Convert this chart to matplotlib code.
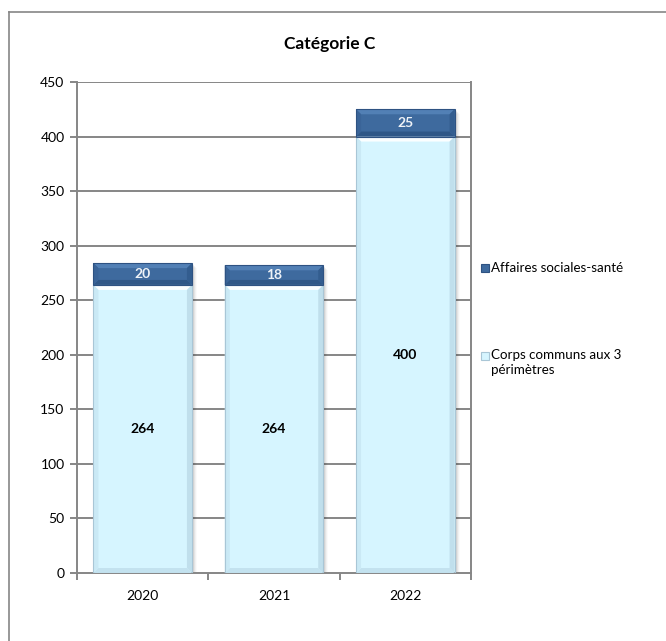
import matplotlib
matplotlib.use("Agg")
import matplotlib.pyplot as plt
from matplotlib.patches import Polygon, Rectangle
from matplotlib.lines import Line2D
import numpy as np

plt.rcParams['font.family'] = ['Lato', 'DejaVu Sans']

years = ["2020", "2021", "2022"]
corps_communs = [264, 264, 400]
affaires_sociales = [20, 18, 25]
series_names = ["Affaires sociales-santé", "Corps communs aux 3\npérimètres"]
title = "Catégorie C"
yticks = list(range(0, 451, 50))

W, H, DPI = 666, 641, 100
fig = plt.figure(figsize=(W / DPI, H / DPI), dpi=DPI)
ax_l, ax_r, ax_b, ax_t = 77 / W, 471 / W, (H - 573) / H, (H - 82) / H
ax = fig.add_axes([ax_l, ax_b, ax_r - ax_l, ax_t - ax_b])

grey = "#868686"
x = np.arange(len(years))
bw = 0.75
ax.set_xlim(-0.5, len(years) - 0.5)
ax.set_ylim(0, 450)

# pixel sizes in data units
px_x = (len(years)) / (W * (ax_r - ax_l))
px_y = 450 / (H * (ax_t - ax_b))

for v in yticks[1:]:
    ax.axhline(v, color=grey, lw=1.4, zorder=0)


def bevel_bar(xc, y0, y1, face, top_c, bot_c, side_l, side_r, edge):
    x0, x1 = xc - bw / 2, xc + bw / 2
    bx, by = 5 * px_x, 5 * px_y
    # soft shadow
    for k, a in zip(range(1, 6), [0.09, 0.07, 0.05, 0.035, 0.02]):
        ax.add_patch(Rectangle((x0 + k * px_x, y0 - k * px_y), x1 - x0, y1 - y0,
                               fc="#000000", alpha=a, lw=0, zorder=1))
    ax.add_patch(Rectangle((x0, y0), x1 - x0, y1 - y0, fc=face, lw=0, zorder=2))
    ax.add_patch(Polygon([(x0, y1), (x1, y1), (x1 - bx, y1 - by), (x0 + bx, y1 - by)],
                         fc=top_c, lw=0, zorder=3))
    ax.add_patch(Polygon([(x0, y0), (x1, y0), (x1 - bx, y0 + by), (x0 + bx, y0 + by)],
                         fc=bot_c, lw=0, zorder=3))
    ax.add_patch(Polygon([(x0, y0), (x0, y1), (x0 + bx, y1 - by), (x0 + bx, y0 + by)],
                         fc=side_l, lw=0, zorder=3))
    ax.add_patch(Polygon([(x1, y0), (x1, y1), (x1 - bx, y1 - by), (x1 - bx, y0 + by)],
                         fc=side_r, lw=0, zorder=3))
    ax.add_patch(Rectangle((x0, y0), x1 - x0, y1 - y0, fc="none", ec=edge, lw=0.8, zorder=4))


for i in range(len(years)):
    c = corps_communs[i]
    a = affaires_sociales[i]
    bevel_bar(x[i], 0, c, "#D6F5FF", "#FBFEFF", "#C3E2EF", "#CAE9F5", "#C0DFEC", "#A9C6D6")
    bevel_bar(x[i], c, c + a, "#3E6A9E", "#5280B5", "#2F5787", "#3A6498", "#335D8F", "#2E5282")
    ax.text(x[i], c / 2, str(c), ha="center", va="center", fontsize=10,
            fontweight="bold", color="black", zorder=5)
    ax.text(x[i], c + a / 2, str(a), ha="center", va="center", fontsize=10,
            fontweight="bold", color="#EEF2F7", zorder=5)

ax.spines["top"].set_visible(False)
for s in ["left", "bottom", "right"]:
    ax.spines[s].set_color(grey)
    ax.spines[s].set_linewidth(1.4)

ax.set_yticks(yticks)
ax.tick_params(axis="y", direction="out", length=5, width=1.4, color=grey,
               labelsize=10, pad=4)
ax.set_xticks(x)
ax.set_xticklabels(years)
ax.set_xticks(np.arange(-0.5, len(years), 1), minor=True)
ax.tick_params(axis="x", which="major", length=0, labelsize=10, pad=12)
ax.tick_params(axis="x", which="minor", direction="out", length=5, width=1.4, color=grey)

fig.text(330 / W, (H - 44) / H, title, fontsize=12.5, fontweight="bold",
         ha="center", va="center")

# legend
legend_y = [268, 356]
legend_cols = [("#3E6A9E", "#2E5282"), ("#D6F5FF", "#A9C6D6")]
for name, yy, (fc, ec) in zip(series_names, legend_y, legend_cols):
    fig.patches.append(Rectangle((481 / W, (H - yy - 4) / H), 8 / W, 8 / H,
                                 transform=fig.transFigure, fc=fc, ec=ec, lw=0.8))
    if "\n" in name:
        fig.text(491 / W, (H - yy + 7) / H, name, fontsize=9.6, va="top",
                 ha="left", linespacing=1.35)
    else:
        fig.text(491 / W, (H - yy) / H, name, fontsize=9.6, va="center", ha="left")

# chart border
fig.add_artist(Line2D([9 / W, 9 / W], [0, (H - 12) / H], color=grey, lw=1.2,
                      transform=fig.transFigure))
fig.add_artist(Line2D([9 / W, 1], [(H - 12) / H, (H - 12) / H], color=grey, lw=1.2,
                      transform=fig.transFigure))

fig.savefig("out.png", dpi=DPI, facecolor="white")
